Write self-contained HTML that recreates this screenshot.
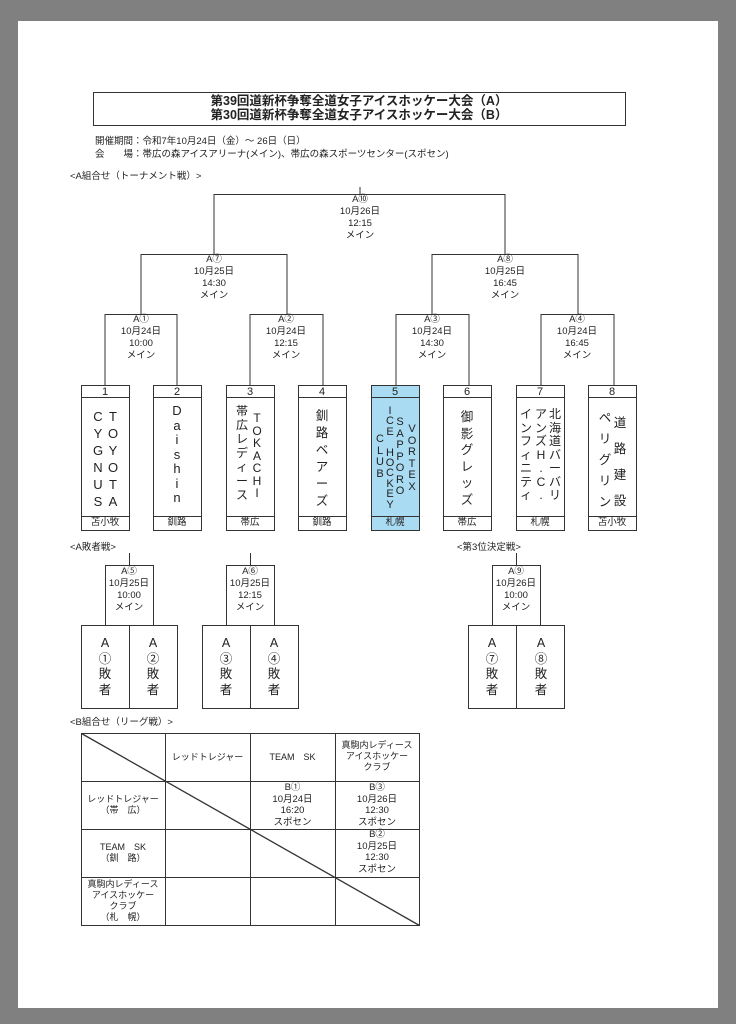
<!DOCTYPE html>
<html><head><meta charset="utf-8">
<style>
*{margin:0;padding:0;box-sizing:border-box}
body{width:736px;height:1024px;background:#808080;position:relative;overflow:hidden;font-family:"Liberation Sans","Noto Sans CJK JP",sans-serif;color:#222}
#page{position:absolute;left:18px;top:21px;width:700px;height:987px;background:#fff}
.t{position:absolute;white-space:nowrap;font-size:9.5px;line-height:12px}
.c{text-align:center}
.v{position:absolute;text-align:center;font-size:12px;width:16px;margin-left:-8px}
svg{position:absolute;left:0;top:0}
</style></head><body>
<div id="page"></div>
<svg width="736" height="1024" viewBox="0 0 736 1024">
<g fill="none" stroke="#333" stroke-width="1">
<rect x="93.5" y="92.5" width="532" height="33"/>
<!-- tournament -->
<path d="M360 187V195M214 255V194.5H505V255M141 314V254.5H287V314M432 314V254.5H578V314"/>
<path d="M105 385V314.5H177V385M250 385V314.5H323V385M396 385V314.5H469V385M541 385V314.5H614V385"/>
</g>
<rect x="371.5" y="385.5" width="48" height="145" fill="#a9dbf3"/>
<g fill="none" stroke="#333" stroke-width="1">
<rect x="81.5" y="385.5" width="48" height="145"/><path d="M81.5 397.5H129.5M81.5 516.5H129.5"/>
<rect x="153.5" y="385.5" width="48" height="145"/><path d="M153.5 397.5H201.5M153.5 516.5H201.5"/>
<rect x="226.5" y="385.5" width="48" height="145"/><path d="M226.5 397.5H274.5M226.5 516.5H274.5"/>
<rect x="298.5" y="385.5" width="48" height="145"/><path d="M298.5 397.5H346.5M298.5 516.5H346.5"/>
<rect x="371.5" y="385.5" width="48" height="145"/><path d="M371.5 397.5H419.5M371.5 516.5H419.5"/>
<rect x="443.5" y="385.5" width="48" height="145"/><path d="M443.5 397.5H491.5M443.5 516.5H491.5"/>
<rect x="516.5" y="385.5" width="48" height="145"/><path d="M516.5 397.5H564.5M516.5 516.5H564.5"/>
<rect x="588.5" y="385.5" width="48" height="145"/><path d="M588.5 397.5H636.5M588.5 516.5H636.5"/>
<!-- losers -->
<path d="M129.5 553V565M250.5 553V565M516.5 553V565"/>
<rect x="105.5" y="565.5" width="48" height="60"/><rect x="81.5" y="625.5" width="96" height="83"/><path d="M129.5 625.5V708.5"/>
<rect x="226.5" y="565.5" width="48" height="60"/><rect x="202.5" y="625.5" width="96" height="83"/><path d="M250.5 625.5V708.5"/>
<rect x="492.5" y="565.5" width="48" height="60"/><rect x="468.5" y="625.5" width="96" height="83"/><path d="M516.5 625.5V708.5"/>
<!-- table -->
<rect x="81.5" y="733.5" width="338" height="192"/>
<path d="M165.5 733.5V925.5M250.5 733.5V925.5M335.5 733.5V925.5M81.5 781.5H419.5M81.5 829.5H419.5M81.5 877.5H419.5"/>
<path d="M81.5 733.5L419.5 925.5" stroke-width="1.3"/>
</g>
</svg>

<div class="t c" style="left:93px;top:94px;width:532px;font-size:12.5px;line-height:14px;font-weight:bold">第39回道新杯争奪全道女子アイスホッケー大会（A）<br>第30回道新杯争奪全道女子アイスホッケー大会（B）</div>
<div class="t" style="left:95px;top:136px;font-size:9.5px">開催期間：令和7年10月24日（金）～ 26日（日）</div>
<div class="t" style="left:95px;top:149px;font-size:9.5px">会　　場：帯広の森アイスアリーナ(メイン)、帯広の森スポーツセンター(スポセン)</div>
<div class="t" style="left:70px;top:171px">&lt;A組合せ（トーナメント戦）&gt;</div>

<div class="t c" style="left:320px;top:194px;width:80px">A⑩<br>10月26日<br>12:15<br>メイン</div>
<div class="t c" style="left:174px;top:254px;width:80px">A⑦<br>10月25日<br>14:30<br>メイン</div>
<div class="t c" style="left:465px;top:254px;width:80px">A⑧<br>10月25日<br>16:45<br>メイン</div>
<div class="t c" style="left:101px;top:314px;width:80px">A①<br>10月24日<br>10:00<br>メイン</div>
<div class="t c" style="left:246px;top:314px;width:80px">A②<br>10月24日<br>12:15<br>メイン</div>
<div class="t c" style="left:392px;top:314px;width:80px">A③<br>10月24日<br>14:30<br>メイン</div>
<div class="t c" style="left:537px;top:314px;width:80px">A④<br>10月24日<br>16:45<br>メイン</div>

<!-- numbers -->
<div class="t c" style="left:81px;top:386px;width:48px;font-size:11px">1</div>
<div class="t c" style="left:153px;top:386px;width:48px;font-size:11px">2</div>
<div class="t c" style="left:226px;top:386px;width:48px;font-size:11px">3</div>
<div class="t c" style="left:298px;top:386px;width:48px;font-size:11px">4</div>
<div class="t c" style="left:371px;top:386px;width:48px;font-size:11px">5</div>
<div class="t c" style="left:443px;top:386px;width:48px;font-size:11px">6</div>
<div class="t c" style="left:516px;top:386px;width:48px;font-size:11px">7</div>
<div class="t c" style="left:588px;top:386px;width:48px;font-size:11px">8</div>
<div class="t c" style="left:81px;top:517px;width:48px">苫小牧</div>
<div class="t c" style="left:153px;top:517px;width:48px">釧路</div>
<div class="t c" style="left:226px;top:517px;width:48px">帯広</div>
<div class="t c" style="left:298px;top:517px;width:48px">釧路</div>
<div class="t c" style="left:371px;top:517px;width:48px">札幌</div>
<div class="t c" style="left:443px;top:517px;width:48px">帯広</div>
<div class="t c" style="left:516px;top:517px;width:48px">札幌</div>
<div class="t c" style="left:588px;top:517px;width:48px">苫小牧</div>

<!-- team names -->
<div class="v" style="left:98px;top:408px;line-height:17px;font-size:13px">C<br>Y<br>G<br>N<br>U<br>S</div>
<div class="v" style="left:113px;top:408px;line-height:17px;font-size:13px">T<br>O<br>Y<br>O<br>T<br>A</div>
<div class="v" style="left:177px;top:404px;line-height:14.5px;font-size:13px">D<br>a<br>i<br>s<br>h<br>i<br>n</div>
<div class="v" style="left:242px;top:404px;line-height:14px;font-size:12px">帯<br>広<br>レ<br>デ<br>ィ<br>ー<br>ス</div>
<div class="v" style="left:257px;top:412px;line-height:12.5px;font-size:12px">T<br>O<br>K<br>A<br>C<br>H<br>I</div>
<div class="v" style="left:322px;top:408px;line-height:17px;font-size:12.5px">釧<br>路<br>ベ<br>ア<br>ー<br>ズ</div>
<div class="v" style="left:380px;top:434px;line-height:11.5px;font-size:11px">C<br>L<br>U<br>B</div>
<div class="v" style="left:390px;top:406px;line-height:10.4px;font-size:11px">I<br>C<br>E<br> <br>H<br>O<br>C<br>K<br>E<br>Y</div>
<div class="v" style="left:400px;top:417px;line-height:11.5px;font-size:11px">S<br>A<br>P<br>P<br>O<br>R<br>O</div>
<div class="v" style="left:412px;top:424px;line-height:11.5px;font-size:11px">V<br>O<br>R<br>T<br>E<br>X</div>
<div class="v" style="left:467px;top:409px;line-height:16.5px;font-size:12.5px">御<br>影<br>グ<br>レ<br>ッ<br>ズ</div>
<div class="v" style="left:526px;top:408px;line-height:13.5px;font-size:12px">イ<br>ン<br>フ<br>ィ<br>ニ<br>テ<br>ィ</div>
<div class="v" style="left:541px;top:408px;line-height:13.5px;font-size:12px">ア<br>ン<br>ズ<br>H<br>.<br>C<br>.</div>
<div class="v" style="left:555px;top:408px;line-height:13.5px;font-size:12px">北<br>海<br>道<br>バ<br>ー<br>バ<br>リ</div>
<div class="v" style="left:605px;top:408px;line-height:21px;font-size:12.5px">ペ<br>リ<br>グ<br>リ<br>ン</div>
<div class="v" style="left:620px;top:410px;line-height:26px;font-size:12.5px">道<br>路<br>建<br>設</div>

<!-- losers -->
<div class="t" style="left:70px;top:542px">&lt;A敗者戦&gt;</div>
<div class="t" style="left:457px;top:542px">&lt;第3位決定戦&gt;</div>
<div class="t c" style="left:89px;top:566px;width:80px">A⑤<br>10月25日<br>10:00<br>メイン</div>
<div class="t c" style="left:210px;top:566px;width:80px">A⑥<br>10月25日<br>12:15<br>メイン</div>
<div class="t c" style="left:476px;top:566px;width:80px">A⑨<br>10月26日<br>10:00<br>メイン</div>
<div class="v" style="left:105px;top:636px;line-height:15.5px;font-size:12.5px">A<br>①<br>敗<br>者</div>
<div class="v" style="left:153px;top:636px;line-height:15.5px;font-size:12.5px">A<br>②<br>敗<br>者</div>
<div class="v" style="left:226px;top:636px;line-height:15.5px;font-size:12.5px">A<br>③<br>敗<br>者</div>
<div class="v" style="left:274px;top:636px;line-height:15.5px;font-size:12.5px">A<br>④<br>敗<br>者</div>
<div class="v" style="left:492px;top:636px;line-height:15.5px;font-size:12.5px">A<br>⑦<br>敗<br>者</div>
<div class="v" style="left:541px;top:636px;line-height:15.5px;font-size:12.5px">A<br>⑧<br>敗<br>者</div>

<!-- table -->
<div class="t" style="left:70px;top:717px">&lt;B組合せ（リーグ戦）&gt;</div>
<div class="t c" style="left:165px;top:751px;width:85px;font-size:9px">レッドトレジャー</div>
<div class="t c" style="left:250px;top:751px;width:85px;font-size:9px">TEAM　SK</div>
<div class="t c" style="left:335px;top:740px;width:84px;font-size:9px;line-height:11px">真駒内レディース<br>アイスホッケー<br>クラブ</div>
<div class="t c" style="left:81px;top:794px;width:84px;font-size:9px;line-height:11px">レッドトレジャー<br>（帯　広）</div>
<div class="t c" style="left:250px;top:782px;width:85px;font-size:9.5px;line-height:11.5px">B①<br>10月24日<br>16:20<br>スポセン</div>
<div class="t c" style="left:335px;top:782px;width:84px;font-size:9.5px;line-height:11.5px">B③<br>10月26日<br>12:30<br>スポセン</div>
<div class="t c" style="left:81px;top:842px;width:84px;font-size:9px;line-height:11px">TEAM　SK<br>（釧　路）</div>
<div class="t c" style="left:335px;top:829px;width:84px;font-size:9.5px;line-height:11.5px">B②<br>10月25日<br>12:30<br>スポセン</div>
<div class="t c" style="left:81px;top:879px;width:84px;font-size:9px;line-height:11px">真駒内レディース<br>アイスホッケー<br>クラブ<br>（札　幌）</div>
</body></html>
